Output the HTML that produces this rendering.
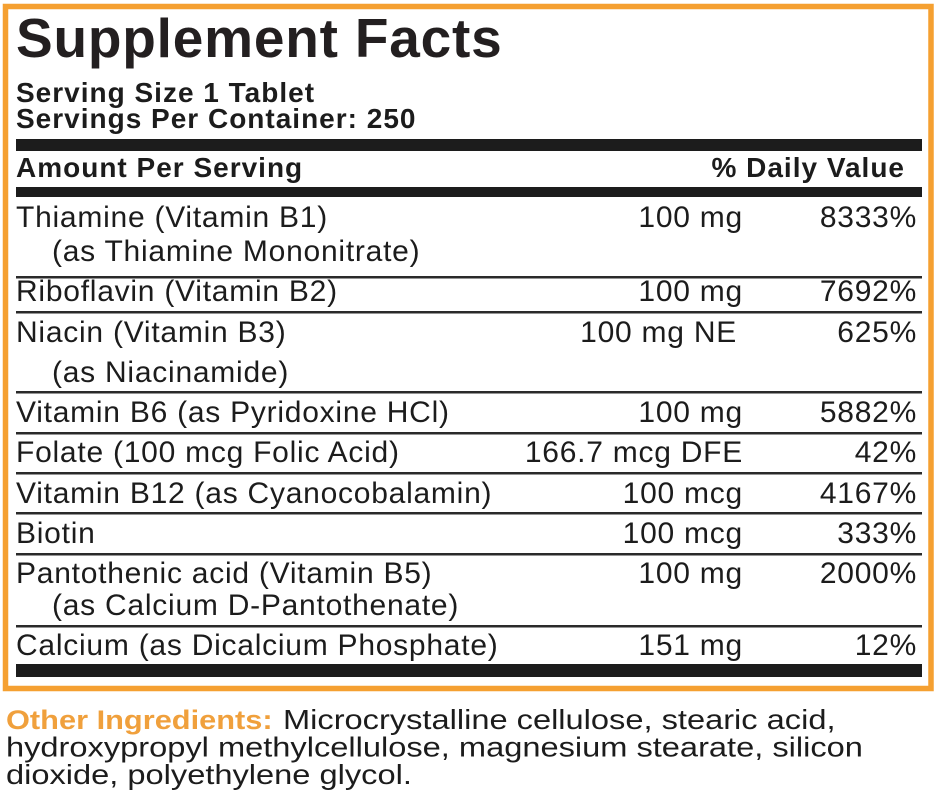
<!DOCTYPE html>
<html>
<head>
<meta charset="utf-8">
<style>
  html, body { margin: 0; padding: 0; background: #ffffff; }
  body { width: 937px; height: 802px; overflow: hidden; }
  svg { display: block; }
  .t { font-family: "Liberation Sans", Arial, sans-serif; fill: #1c1c1c; }
  .title { font-size: 55px; font-weight: bold; letter-spacing: 0.8px; fill: #231f20; }
  .hb { font-size: 28px; font-weight: bold; letter-spacing: 1px; }
  .r { font-size: 30px; letter-spacing: 0.75px; }
  .oi { font-size: 28px; }
  .oib { font-size: 27px; font-weight: bold; fill: #f0a03c; }
</style>
</head>
<body>
<svg width="937" height="802" viewBox="0 0 937 802" xmlns="http://www.w3.org/2000/svg">
  <rect x="0" y="0" width="937" height="802" fill="#ffffff"/>
  <!-- orange frame -->
  <rect x="5.5" y="6.5" width="925.5" height="682" fill="none" stroke="#f5a031" stroke-width="5.5"/>

  <!-- Title & serving -->
  <text class="t title" x="16" y="57">Supplement Facts</text>
  <text class="t hb" x="16" y="102">Serving Size 1 Tablet</text>
  <text class="t hb" x="16" y="128">Servings Per Container: 250</text>

  <!-- thick bar 1 -->
  <rect x="16" y="139" width="906" height="12" fill="#1c1c1c"/>
  <text class="t hb" x="16" y="177">Amount Per Serving</text>
  <text class="t hb" x="905" y="177" text-anchor="end">% Daily Value</text>
  <!-- thick bar 2 -->
  <rect x="16" y="187" width="906" height="10" fill="#1c1c1c"/>

  <!-- rows -->
  <text class="t r" x="16" y="227">Thiamine (Vitamin B1)</text>
  <text class="t r" x="52" y="261">(as Thiamine Mononitrate)</text>
  <text class="t r" x="743" y="227" text-anchor="end">100 mg</text>
  <text class="t r" x="917" y="227" text-anchor="end">8333%</text>
  <rect x="16" y="276" width="906" height="2.5" fill="#2a2a2a"/>

  <text class="t r" x="16" y="301">Riboflavin (Vitamin B2)</text>
  <text class="t r" x="743" y="301" text-anchor="end">100 mg</text>
  <text class="t r" x="917" y="301" text-anchor="end">7692%</text>
  <rect x="16" y="311" width="906" height="2.5" fill="#2a2a2a"/>

  <text class="t r" x="16" y="342">Niacin (Vitamin B3)</text>
  <text class="t r" x="52" y="382">(as Niacinamide)</text>
  <text class="t r" x="737" y="342" text-anchor="end">100 mg NE</text>
  <text class="t r" x="917" y="342" text-anchor="end">625%</text>
  <rect x="16" y="391" width="906" height="2.5" fill="#2a2a2a"/>

  <text class="t r" x="16" y="422">Vitamin B6 (as Pyridoxine HCl)</text>
  <text class="t r" x="743" y="422" text-anchor="end">100 mg</text>
  <text class="t r" x="917" y="422" text-anchor="end">5882%</text>
  <rect x="16" y="432" width="906" height="2.5" fill="#2a2a2a"/>

  <text class="t r" x="16" y="462">Folate (100 mcg Folic Acid)</text>
  <text class="t r" x="743" y="462" text-anchor="end">166.7 mcg DFE</text>
  <text class="t r" x="917" y="462" text-anchor="end">42%</text>
  <rect x="16" y="472" width="906" height="2.5" fill="#2a2a2a"/>

  <text class="t r" x="16" y="503">Vitamin B12 (as Cyanocobalamin)</text>
  <text class="t r" x="743" y="503" text-anchor="end">100 mcg</text>
  <text class="t r" x="917" y="503" text-anchor="end">4167%</text>
  <rect x="16" y="512" width="906" height="2.5" fill="#2a2a2a"/>

  <text class="t r" x="16" y="543">Biotin</text>
  <text class="t r" x="743" y="543" text-anchor="end">100 mcg</text>
  <text class="t r" x="917" y="543" text-anchor="end">333%</text>
  <rect x="16" y="553" width="906" height="2.5" fill="#2a2a2a"/>

  <text class="t r" x="16" y="583">Pantothenic acid (Vitamin B5)</text>
  <text class="t r" x="52" y="615">(as Calcium D-Pantothenate)</text>
  <text class="t r" x="743" y="583" text-anchor="end">100 mg</text>
  <text class="t r" x="917" y="583" text-anchor="end">2000%</text>
  <rect x="16" y="625" width="906" height="2.5" fill="#2a2a2a"/>

  <text class="t r" x="16" y="655">Calcium (as Dicalcium Phosphate)</text>
  <text class="t r" x="743" y="655" text-anchor="end">151 mg</text>
  <text class="t r" x="917" y="655" text-anchor="end">12%</text>
  <!-- thick bottom bar -->
  <rect x="16" y="664" width="906" height="13" fill="#1c1c1c"/>

  <!-- Other ingredients -->
  <text class="t oib" transform="translate(6,729) scale(1.14,1)" x="0" y="0">Other Ingredients:</text>
  <text class="t oi" transform="translate(283,729) scale(1.165,1)" x="0" y="0">Microcrystalline cellulose, stearic acid,</text>
  <text class="t oi" transform="translate(6,756.5) scale(1.165,1)" x="0" y="0">hydroxypropyl methylcellulose, magnesium stearate, silicon</text>
  <text class="t oi" transform="translate(6,784) scale(1.165,1)" x="0" y="0">dioxide, polyethylene glycol.</text>
</svg>
</body>
</html>
